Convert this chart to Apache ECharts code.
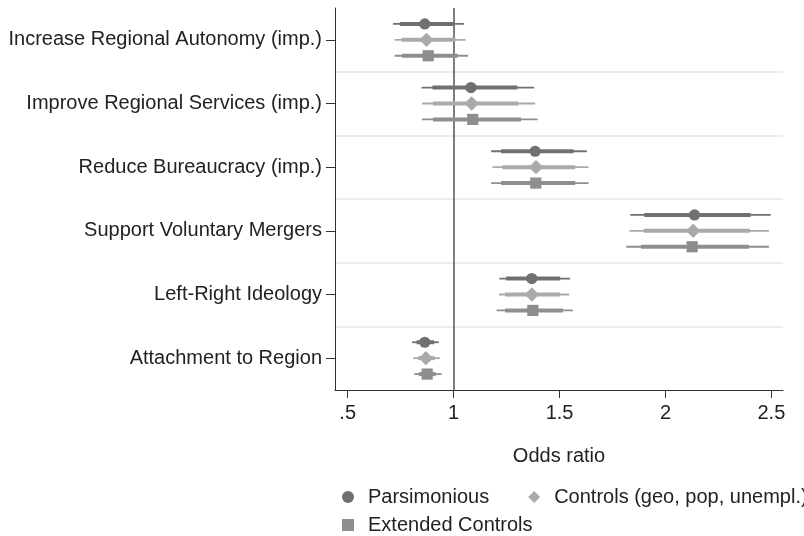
<!DOCTYPE html>
<html>
<head>
<meta charset="utf-8">
<script src="https://cdn.jsdelivr.net/npm/echarts@6/dist/echarts.min.js"></script>
<style>
    html, body { margin: 0; padding: 0; background: #fff; }
    #main { width: 804px; height: 536px; }
</style>
</head>
<body>
<div id="main"></div>
<script>
// categories, top to bottom
var cats = [
    'Increase Regional Autonomy (imp.)',
    'Improve Regional Services (imp.)',
    'Reduce Bureaucracy (imp.)',
    'Support Voluntary Mergers',
    'Left-Right Ideology',
    'Attachment to Region'
];
var models = ['Parsimonious', 'Controls (geo, pop, unempl.)', 'Extended Controls'];

// Parsimonious
var parsEst = [0.864, 1.082, 1.385, 2.137, 1.369, 0.864];
var parsLo95 = [0.714, 0.849, 1.177, 1.834, 1.216, 0.804];
var parsHi95 = [1.049, 1.380, 1.629, 2.497, 1.550, 0.930];
var parsLo90 = [0.746, 0.900, 1.224, 1.900, 1.248, 0.825];
var parsHi90 = [0.998, 1.301, 1.566, 2.402, 1.503, 0.908];

// Controls (geo, pop, unempl.)
var ctrlEst = [0.872, 1.085, 1.389, 2.131, 1.369, 0.869];
var ctrlLo95 = [0.722, 0.851, 1.183, 1.830, 1.214, 0.809];
var ctrlHi95 = [1.057, 1.385, 1.637, 2.489, 1.546, 0.935];
var ctrlLo90 = [0.754, 0.903, 1.230, 1.897, 1.243, 0.832];
var ctrlHi90 = [1.009, 1.306, 1.574, 2.399, 1.503, 0.911];

// Extended Controls
var extEst = [0.880, 1.090, 1.388, 2.126, 1.374, 0.875];
var extLo95 = [0.722, 0.851, 1.177, 1.815, 1.203, 0.814];
var extHi95 = [1.069, 1.397, 1.637, 2.489, 1.563, 0.943];
var extLo90 = [0.757, 0.903, 1.224, 1.885, 1.243, 0.836];
var extHi90 = [1.019, 1.318, 1.574, 2.394, 1.516, 0.915];

var xTicks = [0.5, 1, 1.5, 2, 2.5];
var xTickLabels = ['.5', '1', '1.5', '2', '2.5'];
var refValue = 1;

var colors = ['#707070', '#aaaaaa', '#8e8e8e'];
var icons = ['circle', 'diamond', 'rect'];
var font = "'Liberation Sans', Arial, sans-serif";

// build rows for one model
function rows(est, lo95, hi95, lo90, hi90) {
    var out = [];
    for (var i = 0; i < cats.length; i++) {
        out.push([i, est[i], lo95[i], hi95[i], lo90[i], hi90[i]]);
    }
    return out;
}

// marker + two CI bars
function makeRender(k) {
    return function (params, api) {
        var cat = api.value(0);
        var band = api.size([0, 1])[1];
        var dy = (k - 1) * band * 0.25;
        var c = api.coord([api.value(1), cat]);
        var l95 = api.coord([api.value(2), cat]);
        var h95 = api.coord([api.value(3), cat]);
        var l90 = api.coord([api.value(4), cat]);
        var h90 = api.coord([api.value(5), cat]);
        var x = c[0], y = c[1] + dy;
        var col = colors[k];
        var mk;
        if (k == 0) {
            mk = { type: 'circle', shape: { cx: x, cy: y, r: 5.6 }, style: { fill: col } };
        } else if (k == 1) {
            mk = { type: 'polygon', shape: { points: [[x, y - 7.2], [x + 7.2, y], [x, y + 7.2], [x - 7.2, y]] }, style: { fill: col } };
        } else {
            mk = { type: 'rect', shape: { x: x - 5.6, y: y - 5.6, width: 11.2, height: 11.2 }, style: { fill: col } };
        }
        return {
            type: 'group',
            children: [
                { type: 'line', shape: { x1: l95[0], y1: y, x2: h95[0], y2: y }, style: { stroke: col, lineWidth: 1.8 } },
                { type: 'line', shape: { x1: l90[0], y1: y, x2: h90[0], y2: y }, style: { stroke: col, lineWidth: 4 } },
                mk
            ]
        };
    };
}

var allData = [
    rows(parsEst, parsLo95, parsHi95, parsLo90, parsHi90),
    rows(ctrlEst, ctrlLo95, ctrlHi95, ctrlLo90, ctrlHi90),
    rows(extEst, extLo95, extHi95, extLo90, extHi90)
];

var series = [];
for (var k = 0; k < models.length; k++) {
    var s = {
        name: models[k],
        type: 'custom',
        renderItem: makeRender(k),
        itemStyle: { color: colors[k] },
        encode: { x: [1, 2, 3, 4, 5], y: 0 },
        data: allData[k],
        z: 3
    };
    if (k == 0) {
        // vertical reference line at 1
        s.markLine = {
            silent: true,
            symbol: 'none',
            label: { show: false },
            lineStyle: { color: '#555', width: 1.5, type: 'solid' },
            data: [{ xAxis: refValue }],
            z: 2
        };
    }
    series.push(s);
}

function legendItems(from, to) {
    var out = [];
    for (var i = from; i < to; i++) out.push({ name: models[i], icon: icons[i] });
    return out;
}
var legendText = { fontSize: 20, color: '#222', fontFamily: font, padding: [0, 0, 0, 9] };

var chart = echarts.init(document.getElementById('main'));
var option = {
    animation: false,
    backgroundColor: '#fff',
    grid: { left: 335, right: 21, top: 8, bottom: 146 },
    xAxis: {
        type: 'value',
        min: 0.44,
        max: 2.555,
        name: 'Odds ratio',
        nameLocation: 'middle',
        nameGap: 56,
        nameTextStyle: { fontSize: 20, color: '#222', fontFamily: font },
        axisLine: { show: true, lineStyle: { color: '#333', width: 1 } },
        axisTick: { show: true, length: 8, customValues: xTicks, lineStyle: { color: '#333' } },
        axisLabel: {
            customValues: xTicks,
            margin: 13,
            fontSize: 20,
            color: '#222',
            fontFamily: font,
            formatter: function (v) {
                var i = xTicks.indexOf(v);
                return i >= 0 ? xTickLabels[i] : '';
            }
        },
        splitLine: { show: false }
    },
    yAxis: {
        type: 'category',
        inverse: true,
        data: cats,
        boundaryGap: true,
        axisLine: { show: true, lineStyle: { color: '#333', width: 1 } },
        axisTick: { show: true, alignWithLabel: true, length: 9, lineStyle: { color: '#333' } },
        axisLabel: { margin: 13, fontSize: 20, color: '#222', fontFamily: font },
        splitLine: {
            show: true,
            showMinLine: false,
            showMaxLine: false,
            lineStyle: { color: '#e6e6e6', width: 1.6 }
        }
    },
    legend: [{
        left: 337,
        top: 482,
        width: 700,
        itemWidth: 12,
        itemHeight: 12,
        itemGap: 39,
        selectedMode: false,
        textStyle: legendText,
        data: legendItems(0, 2)
    }, {
        left: 337,
        top: 510,
        itemWidth: 12,
        itemHeight: 12,
        selectedMode: false,
        textStyle: legendText,
        data: legendItems(2, 3)
    }],
    series: series
};
chart.setOption(option);
</script>
</body>
</html>
